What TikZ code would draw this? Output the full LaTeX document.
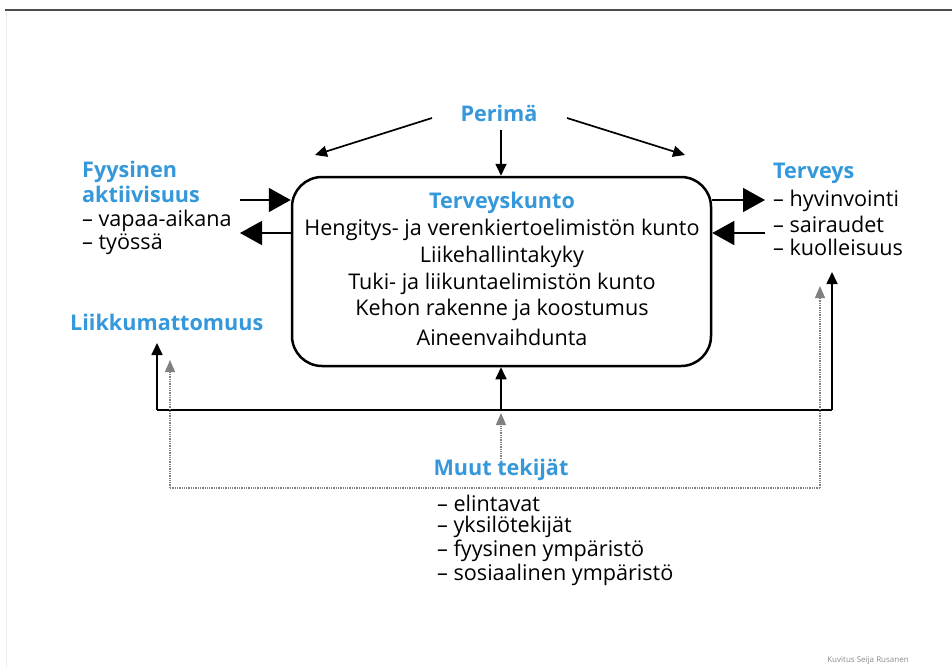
\documentclass[tikz,border=0pt]{standalone}
\usepackage{fontspec}
\setmainfont{Open Sans}
\usetikzlibrary{arrows.meta}
\definecolor{hblue}{RGB}{52,152,219}
\tikzset{
 txt/.style={font=\fontsize{21.6}{24}\selectfont, inner sep=0pt, align=left},
 hd/.style={inner sep=0pt, text=hblue, font=\fontsize{21.6}{24}\selectfont\bfseries},
 bigarr/.style={line width=1.6pt, -{Triangle[length=22pt,width=24pt]}},
 arr/.style={line width=1.7pt, -{Triangle[length=12pt,width=11pt]}},
 plainline/.style={line width=1.7pt},
 dotarr/.style={black!50, line width=1.3pt, densely dotted, -{Triangle[length=12pt,width=10pt]}},
 dotline/.style={black!50, line width=1.3pt, densely dotted},
}
\begin{document}
\begin{tikzpicture}[x=1pt,y=-1pt]
\useasboundingbox (0,0) rectangle (952,667);
\fill[white] (0,0) rectangle (952,667);
\draw[line width=2pt, black!70] (5,10) -- (952,10);
\draw[line width=1pt, black!8] (6,11) -- (6,667);

% main box
\node[draw, rounded corners=30pt, line width=2.5pt, minimum width=419pt, minimum height=189pt, inner sep=0pt] (box) at (501.5,271.5) {};
\node[hd] (tk) at (502,203) {Terveyskunto};
\node[txt] (t1) at (502,230) {Hengitys- ja verenkiertoelimistön kunto};
\node[txt] (t2) at (502,257) {Liikehallintakyky};
\node[txt] (t3) at (502,284) {Tuki- ja liikuntaelimistön kunto};
\node[txt] (t4) at (502,310) {Kehon rakenne ja koostumus};
\node[txt] (t5) at (502,337) {Aineenvaihdunta};

% Perimä
\node[hd] (per) at (499,113) {Perimä};
\coordinate (pl0) at (432,118);
\coordinate (pl1) at (315,155);
\coordinate (pr0) at (567,118);
\coordinate (pr1) at (685,155);
\draw[arr] (pl0) -- (pl1);
\draw[arr] (pr0) -- (pr1);
\draw[arr] (501,130) -- (box.north -| 501,0);

% Fyysinen aktiivisuus
\node[hd, anchor=west] (fa) at (82,172) {Fyysinen};
\node[hd, anchor=west] (fa2) at (82,194) {aktiivisuus};
\node[txt, anchor=west] (fa3) at (82,221) {– vapaa-aikana};
\node[txt, anchor=west] (fa4) at (82,244) {– työssä};
\coordinate (fal1) at (240,200);
\coordinate (fal2) at (240,233);
\draw[bigarr] (fal1) -- (fal1 -| box.west);
\draw[bigarr] (fal2 -| box.west) -- (fal2);

% Terveys
\node[hd, anchor=west] (te) at (773,173) {Terveys};
\node[txt, anchor=west] (te1) at (773,201) {– hyvinvointi};
\node[txt, anchor=west] (te2) at (773,224) {– sairaudet};
\node[txt, anchor=west] (te3) at (773,247) {– kuolleisuus};
\coordinate (ter1) at (765,200);
\coordinate (ter2) at (765,233);
\draw[bigarr] (ter1 -| box.east) -- (ter1);
\draw[bigarr] (ter2) -- (ter2 -| box.east);

% Liikkumattomuus
\node[hd, anchor=west] (li) at (70,322) {Liikkumattomuus};

% solid feedback lines
\coordinate (jL) at (157,410);
\coordinate (jR) at (832,410);
\coordinate (jC) at (501,410);
\coordinate (eL) at (157,343);
\coordinate (eR) at (832,272);
\draw[plainline] (jL) -- (jR);
\draw[arr] (jL) -- (eL);
\draw[arr] (jR) -- (eR);
\draw[arr] (jC) -- (box.south -| jC);

% Muut tekijät
\node[hd] (mt) at (501,470) {Muut tekijät};
\node[txt, anchor=west] (m1) at (437,503) {– elintavat};
\node[txt, anchor=west] (m2) at (437,527) {– yksilötekijät};
\node[txt, anchor=west] (m3) at (437,551) {– fyysinen ympäristö};
\node[txt, anchor=west] (m4) at (437,575) {– sosiaalinen ympäristö};

% dotted lines
\coordinate (dL) at (170,488);
\coordinate (dR) at (820,488);
\coordinate (dLe) at (170,360);
\coordinate (dRe) at (820,286);
\coordinate (dCe) at (501,413);
\draw[dotline] (dL) -- (dR);
\draw[dotarr] (dL) -- (dLe);
\draw[dotarr] (dR) -- (dRe);
\draw[dotarr] (mt.north) -- (dCe);

% credit
\node[font=\fontsize{8}{9}\selectfont, text=black!45, inner sep=0pt] (cr) at (868,661) {Kuvitus Seija Rusanen};
\end{tikzpicture}
\end{document}
